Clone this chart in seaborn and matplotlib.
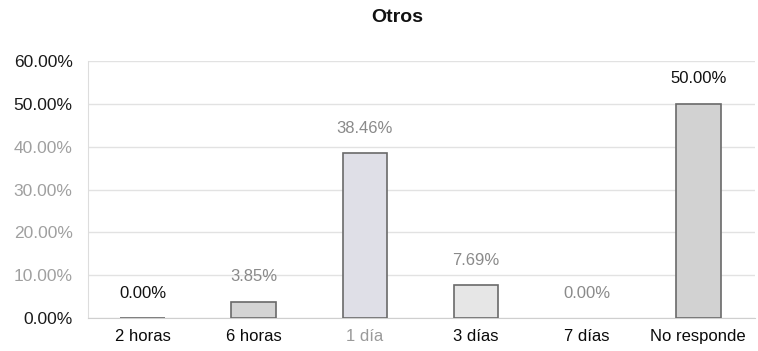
import matplotlib
matplotlib.use("Agg")
import matplotlib.pyplot as plt
import seaborn as sns
import pandas as pd

# Data
categories = ["2 horas", "6 horas", "1 día", "3 días", "7 días", "No responde"]
values = [0.00, 3.85, 38.46, 7.69, 0.00, 50.00]
bar_colors = ["#d4d4d4", "#d4d4d4", "#dedee8", "#e6e6e6", "#e0e0e0", "#d2d2d2"]
label_colors = ["#111111", "#8a8a8a", "#8a8a8a", "#8a8a8a", "#8a8a8a", "#111111"]
xtick_colors = ["#0a0a0a", "#0a0a0a", "#9a9a9a", "#0a0a0a", "#0a0a0a", "#0a0a0a"]
yticks = [0, 10, 20, 30, 40, 50, 60]
ytick_colors = ["#1a1a1a", "#a0a0a0", "#a0a0a0", "#a0a0a0", "#a0a0a0", "#1a1a1a", "#1a1a1a"]
title = "Otros"

sns.set_style("white")
plt.rcParams["font.family"] = ["Liberation Sans", "DejaVu Sans"]

df = pd.DataFrame({"cat": categories, "val": values})

fig = plt.figure(figsize=(7.58, 3.51), dpi=100)
ax = fig.add_axes([88 / 758, 1 - 318 / 351, (755 - 88) / 758, (318 - 61) / 351])

sns.barplot(data=df, x="cat", y="val", hue="cat", palette=bar_colors,
            legend=False, width=0.40, edgecolor="#6a6a6a", linewidth=1.2,
            ax=ax, zorder=3)

# the empty "7 días" bar leaves no outline on the baseline
ax.patches[4].set_linewidth(0)

ax.set_xlim(-0.49, 5.51)
ax.set_ylim(0, 60)
ax.set_yticks(yticks)
ax.set_yticklabels([f"{t:.2f}%" for t in yticks], fontsize=12.5)
for lbl, c in zip(ax.get_yticklabels(), ytick_colors):
    lbl.set_color(c)
ax.set_xticks(range(len(categories)))
ax.set_xticklabels(categories, fontsize=12)
for lbl, c in zip(ax.get_xticklabels(), xtick_colors):
    lbl.set_color(c)
ax.tick_params(axis="y", length=0, pad=11)
ax.tick_params(axis="x", length=0, pad=8)
ax.set_xlabel("")
ax.set_ylabel("")

ax.yaxis.grid(True, color="#e2e2e2", linewidth=1.0, zorder=0)
ax.set_axisbelow(True)
for side in ["top", "right"]:
    ax.spines[side].set_visible(False)
ax.spines["left"].set_color("#dddddd")
ax.spines["bottom"].set_color("#cfcfcf")

# Value labels above each bar
for i, (v, c) in enumerate(zip(values, label_colors)):
    ax.annotate(f"{v:.2f}%", xy=(i, v), xytext=(0, 18), textcoords="offset points",
                ha="center", va="center", fontsize=12, color=c)

fig.text(397 / 758, 1 - 18 / 351, title, ha="center", va="center",
         fontsize=14, fontweight="bold", color="#111111")

fig.savefig("out.png", dpi=100)
